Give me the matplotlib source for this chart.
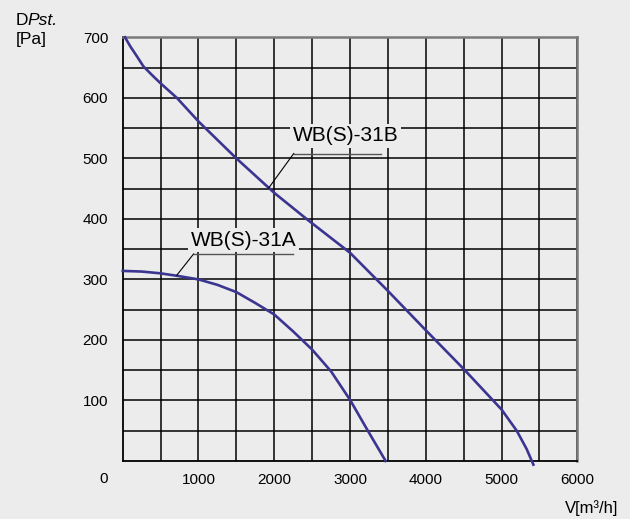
import numpy as np
import matplotlib.pyplot as plt

# curve readings (V in m3/h, dPst in Pa)
v_31b = [30, 100, 180, 273, 400, 500, 714, 1000, 1500, 2000, 2425, 3000, 3500, 4000, 4500, 5000, 5200, 5330, 5420]
p_31b = [700, 685, 670, 652, 636, 624, 600, 561, 500, 443, 400, 344, 281, 216, 152, 85, 50, 20, -6]

v_31a = [0, 250, 500, 714, 1000, 1250, 1500, 1750, 2000, 2250, 2500, 2750, 3000, 3235, 3470]
p_31a = [314, 313, 310, 306, 300, 291, 279, 261, 242, 214, 184, 148, 101, 50, 0]

x_labels = [1000, 2000, 3000, 4000, 5000, 6000]
y_labels = [100, 200, 300, 400, 500, 600, 700]

BG = '#ebeceb'
CURVE = '#3b3591'

plt.rcParams['font.family'] = ['Liberation Sans', 'DejaVu Sans']

fig = plt.figure(figsize=(6.3, 5.19), dpi=100, facecolor=BG)
ax = fig.add_axes([0.1948, 0.1118, 0.7216, 0.8163])
ax.set_facecolor(BG)

ax.set_xlim(0, 6000)
ax.set_ylim(0, 700)
ax.set_xticks(x_labels)
ax.set_xticks(np.arange(500, 6000, 1000), minor=True)
ax.set_yticks(y_labels)
ax.set_yticks(np.arange(50, 700, 100), minor=True)
ax.grid(True, which='both', color='black', linewidth=1.1, zorder=1)
ax.set_axisbelow(True)
ax.tick_params(which='both', length=0)
ax.tick_params(axis='x', pad=8.5, labelsize=11)
ax.tick_params(axis='y', pad=10.5, labelsize=11)

for side in ['left', 'bottom']:
    ax.spines[side].set_color('black')
    ax.spines[side].set_linewidth(1.3)
for side in ['top', 'right']:
    ax.spines[side].set_color('#7a7a7a')
    ax.spines[side].set_linewidth(1.8)

ax.plot(v_31b, p_31b, color=CURVE, linewidth=1.9, zorder=3, clip_on=False,
        solid_joinstyle='round')
ax.plot(v_31a, p_31a, color=CURVE, linewidth=1.9, zorder=3, clip_on=False,
        solid_joinstyle='round')

# labels with leader lines
ax.text(2940, 537, 'WB(S)-31B', fontsize=15, ha='center', va='center', zorder=4,
        bbox=dict(facecolor=BG, edgecolor='none', pad=2))
ax.plot([2257, 3415], [508, 508], color='#555555', linewidth=1.0, zorder=4)
ax.plot([2257, 1926], [508, 451], color='black', linewidth=0.8, zorder=4)

ax.text(1600, 365, 'WB(S)-31A', fontsize=15, ha='center', va='center', zorder=4,
        bbox=dict(facecolor=BG, edgecolor='none', pad=2))
ax.plot([935, 2245], [342, 342], color='#555555', linewidth=1.0, zorder=4)
ax.plot([935, 714], [342, 307], color='black', linewidth=0.8, zorder=4)

# origin label and axis titles
fig.text(104 / 630, 1 - 479 / 519, '0', fontsize=11, ha='center', va='center')
fig.text(16 / 630, 1 - 25 / 519, 'D', fontsize=12.5, ha='left', va='baseline')
fig.text(27 / 630, 1 - 25 / 519, 'Pst.', fontsize=12.5, ha='left', va='baseline',
         fontstyle='italic')
fig.text(16 / 630, 1 - 44 / 519, '[Pa]', fontsize=12.5, ha='left', va='baseline')
fig.text(618 / 630, 1 - 513 / 519, 'V[m\u00b3/h]', fontsize=12, ha='right', va='baseline')

fig.savefig('out.png', dpi=100, facecolor=BG)
